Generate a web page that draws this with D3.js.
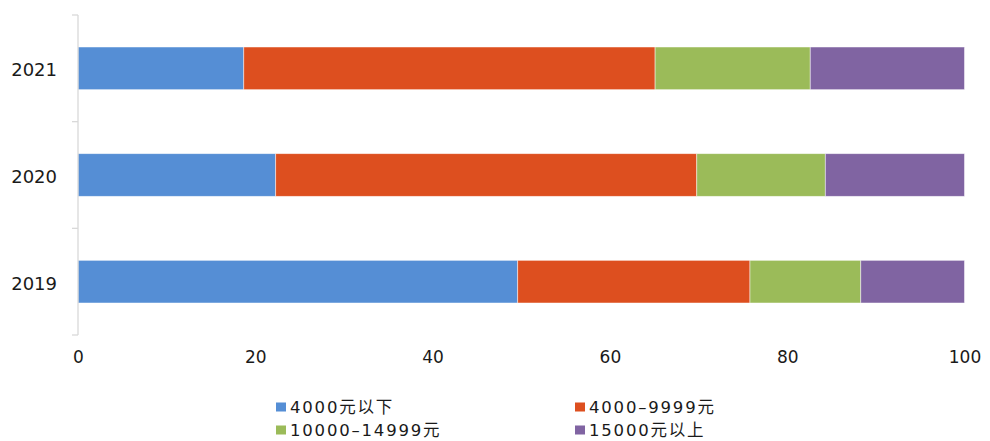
<!DOCTYPE html>
<html>
<head>
<meta charset="utf-8">
<script src="https://cdn.jsdelivr.net/npm/d3@7"></script>
<style>
  html, body { margin: 0; padding: 0; background: #fff; }
  svg text { font-family: "DejaVu Sans", "Noto Sans CJK SC", sans-serif; fill: #1a1a1a; }
</style>
</head>
<body>
<svg id="chart" width="990" height="441"></svg>
<script>
// Income bracket shares (%) by year
const years = ["2021", "2020", "2019"];
const seriesNames = ["4000元以下", "4000–9999元", "10000–14999元", "15000元以上"];
const below4000   = [18.7, 22.3, 49.6];
const from4000    = [46.4, 47.5, 26.2];
const from10000   = [17.5, 14.5, 12.5];
const above15000  = [17.4, 15.7, 11.7];
const xTicks = [0, 20, 40, 60, 80, 100];
const colors = ["#558ED5", "#DD4F1F", "#9BBB59", "#8064A2"];

(function () {
  const seriesValues = [below4000, from4000, from10000, above15000];
  const rows = years.map((yr, i) => {
    const r = { year: yr };
    seriesNames.forEach((s, k) => { r[s] = seriesValues[k][i]; });
    return r;
  });

  const svg = d3.select("#chart");
  const plotLeft = 78, plotRight = 964.5, plotTop = 15, plotBottom = 335;

  const x = d3.scaleLinear().domain([0, 100]).range([plotLeft, plotRight]);
  const y = d3.scaleBand().domain(years).range([plotTop, plotBottom]).paddingInner(0.6).paddingOuter(0.3);

  const stack = d3.stack().keys(seriesNames)(rows);

  // Stacked bars
  svg.append("g").selectAll("g")
    .data(stack)
    .join("g")
    .attr("fill", (d, i) => colors[i])
    .selectAll("rect")
    .data(d => d)
    .join("rect")
    .attr("x", d => x(d[0]))
    .attr("width", d => x(d[1]) - x(d[0]))
    .attr("y", d => y(d.data.year))
    .attr("height", y.bandwidth())
    .attr("stroke", "#ffffff")
    .attr("stroke-opacity", 0.6)
    .attr("stroke-width", 0.8);

  // Category axis: vertical line with tick marks between categories
  const axisG = svg.append("g").attr("stroke", "#d9d9d9").attr("stroke-width", 1.3);
  axisG.append("line").attr("x1", plotLeft).attr("x2", plotLeft).attr("y1", plotTop).attr("y2", plotBottom);
  const step = (plotBottom - plotTop) / years.length;
  d3.range(years.length + 1).forEach(i => {
    const yy = plotTop + i * step;
    axisG.append("line").attr("x1", plotLeft - 6).attr("x2", plotLeft).attr("y1", yy).attr("y2", yy);
  });

  // Category labels
  svg.append("g").selectAll("text")
    .data(years)
    .join("text")
    .attr("x", 57)
    .attr("y", d => y(d) + y.bandwidth() / 2 + 8)
    .attr("text-anchor", "end")
    .attr("font-size", 18)
    .text(d => d);

  // Value axis labels
  const xAxis = d3.axisBottom(x).tickValues(xTicks).tickSize(0).tickPadding(0);
  const xg = svg.append("g").attr("transform", "translate(0, 363)").call(xAxis);
  xg.select(".domain").remove();
  xg.selectAll("text")
    .attr("font-size", 17)
    .attr("font-family", "\"DejaVu Sans\", \"Noto Sans CJK SC\", sans-serif")
    .attr("fill", "#1a1a1a")
    .attr("dy", null)
    .attr("y", 0);

  // Legend (two columns, two rows)
  const legendPos = [[276, 407], [575, 407], [276, 430], [575, 430]];
  const legend = svg.append("g").selectAll("g")
    .data(seriesNames)
    .join("g")
    .attr("transform", (d, i) => `translate(${legendPos[i][0]}, ${legendPos[i][1]})`);
  legend.append("rect")
    .attr("x", 0).attr("y", -4.5).attr("width", 10).attr("height", 9)
    .attr("fill", (d, i) => colors[i]);
  legend.append("text")
    .attr("x", 14)
    .attr("y", 6)
    .attr("font-size", 16.5)
    .attr("letter-spacing", 1.8)
    .text(d => d);
})();
</script>
</body>
</html>
